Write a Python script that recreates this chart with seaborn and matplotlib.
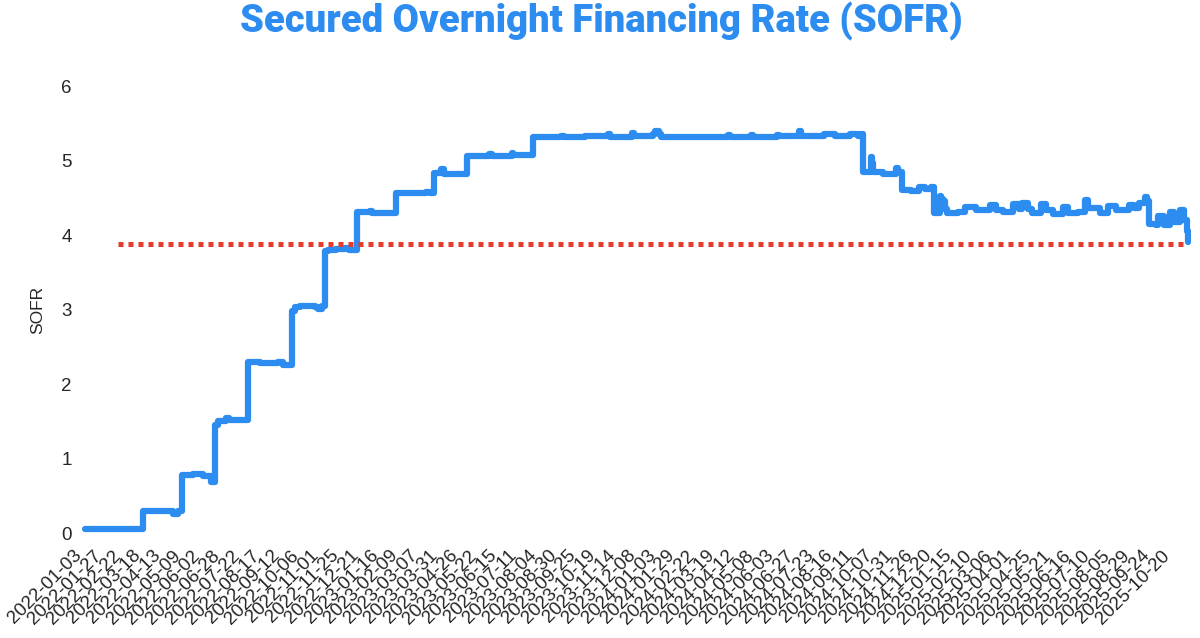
import matplotlib
matplotlib.use("Agg")
import matplotlib.pyplot as plt
import pandas as pd
import seaborn as sns

# SOFR step levels (date the level starts, value in %)
change_dates = [
    "2022-01-03", "2022-03-17", "2022-04-08", "2022-04-25", "2022-05-02",
    "2022-05-05", "2022-05-19", "2022-06-01", "2022-06-13", "2022-06-16",
    "2022-06-21", "2022-06-30", "2022-07-05", "2022-07-28", "2022-08-12",
    "2022-09-06", "2022-09-12", "2022-09-20", "2022-09-22", "2022-09-27",
    "2022-10-04", "2022-10-21", "2022-10-26", "2022-11-01", "2022-11-03",
    "2022-11-08", "2022-11-17", "2022-11-30", "2022-12-05", "2022-12-15",
    "2022-12-30", "2023-01-03", "2023-02-02", "2023-03-13", "2023-03-17",
    "2023-03-23", "2023-03-31", "2023-04-05", "2023-05-04", "2023-06-01",
    "2023-06-05", "2023-06-30", "2023-07-03", "2023-07-27", "2023-08-31",
    "2023-09-05", "2023-10-02", "2023-10-31", "2023-11-02", "2023-11-30",
    "2023-12-04", "2023-12-27", "2023-12-29", "2024-01-03", "2024-01-05",
    "2024-02-01", "2024-03-01", "2024-04-01", "2024-04-03", "2024-04-30",
    "2024-05-02", "2024-06-03", "2024-06-05", "2024-07-01", "2024-07-03",
    "2024-08-01", "2024-08-13", "2024-08-15", "2024-09-03", "2024-09-13",
    "2024-09-17", "2024-09-19", "2024-09-30", "2024-10-01", "2024-10-02",
    "2024-10-15", "2024-10-31", "2024-11-04", "2024-11-08", "2024-11-20",
    "2024-11-29", "2024-12-09", "2024-12-16", "2024-12-19", "2024-12-26",
    "2024-12-27", "2024-12-30", "2024-12-31", "2025-01-02", "2025-01-06",
    "2025-01-20", "2025-01-28", "2025-02-11", "2025-02-28", "2025-03-07",
    "2025-03-18", "2025-03-31", "2025-04-07", "2025-04-10", "2025-04-17",
    "2025-04-23", "2025-05-05", "2025-05-12", "2025-05-20", "2025-06-02",
    "2025-06-09", "2025-06-20", "2025-06-30", "2025-07-03", "2025-07-18",
    "2025-07-29", "2025-08-07", "2025-08-20", "2025-08-25", "2025-09-01",
    "2025-09-05", "2025-09-15", "2025-09-17", "2025-09-18", "2025-09-29",
    "2025-10-01", "2025-10-08", "2025-10-16", "2025-10-21", "2025-10-29",
    "2025-11-03", "2025-11-06", "2025-11-07",
]
sofr_values = [
    0.05, 0.29, 0.30, 0.26, 0.29,
    0.78, 0.79, 0.76, 0.68, 1.45,
    1.50, 1.55, 1.52, 2.30, 2.28,
    2.29, 2.26, 2.25, 2.98, 3.04,
    3.05, 3.03, 3.01, 3.05, 3.78,
    3.80, 3.81, 3.82, 3.80, 4.31,
    4.32, 4.30, 4.56, 4.58, 4.56,
    4.83, 4.88, 4.82, 5.06, 5.09,
    5.06, 5.10, 5.07, 5.31, 5.33,
    5.31, 5.33, 5.35, 5.32, 5.37,
    5.33, 5.36, 5.40, 5.35, 5.31,
    5.32, 5.31, 5.34, 5.32, 5.34,
    5.31, 5.34, 5.33, 5.40, 5.33,
    5.35, 5.36, 5.33, 5.35, 5.33,
    5.36, 4.84, 5.05, 4.96, 4.84,
    4.82, 4.90, 4.85, 4.60, 4.59,
    4.64, 4.62, 4.65, 4.30, 4.52,
    4.38, 4.49, 4.46, 4.35, 4.30,
    4.31, 4.37, 4.34, 4.40, 4.34,
    4.31, 4.41, 4.35, 4.43, 4.35,
    4.30, 4.41, 4.33, 4.28, 4.37,
    4.30, 4.31, 4.47, 4.36, 4.30,
    4.39, 4.33, 4.34, 4.40, 4.36,
    4.43, 4.51, 4.45, 4.15, 4.13,
    4.25, 4.13, 4.31, 4.18, 4.33,
    4.20, 4.05, 3.91,
]

# dotted reference level
ref_level = 3.88
ref_from = "2022-02-14"

# the x axis is one slot per weekday, labelled every 18th slot
first_day = "2022-01-03"
last_day = "2025-11-07"
tick_every = 18

blue = "#2d8cf0"
red = "#e53b2e"

days = pd.bdate_range(first_day, last_day)
df = pd.DataFrame({"date": pd.to_datetime(change_dates), "SOFR": sofr_values})
df["pos"] = days.searchsorted(df["date"])

sns.set_style("white")
plt.rcParams["font.family"] = ["Liberation Sans", "DejaVu Sans"]

fig = plt.figure(figsize=(12, 6.38), dpi=100)
ax = fig.add_axes([0.0681, 0.147, 0.9247, 0.7357])

sns.lineplot(data=df, x="pos", y="SOFR", ax=ax, color=blue, linewidth=4.5,
             drawstyle="steps-post", solid_joinstyle="round",
             solid_capstyle="round")
ax.hlines(ref_level, days.searchsorted(pd.Timestamp(ref_from)), len(days) - 1,
          colors=red, linewidth=3.6, linestyles=(0, (1, 1)))

# tick labels are the weekday dates themselves
tick_pos = list(range(0, len(days), tick_every))
ax.set_xticks(tick_pos)
ax.set_xticklabels(days[::tick_every].strftime("%Y-%m-%d"), rotation=45, ha="right")
ax.set_yticks(range(0, 7))

ax.set_xlim(-3, len(days) + 2)
ax.set_ylim(-0.15, 6.15)
ax.set_xlabel("")
ax.set_ylabel("SOFR", fontsize=12.5, labelpad=12)
ax.tick_params(axis="x", length=0, pad=2, labelsize=13.5)
ax.tick_params(axis="y", length=0, pad=7, labelsize=13.5)
sns.despine(left=True, bottom=True)

fig.text(0.501, 0.9498, "Secured Overnight Financing Rate (SOFR)", ha="center",
         va="baseline", fontsize=27.5, fontweight="heavy", color=blue,
         family=["Roboto", "DejaVu Sans"])

fig.savefig("out.png", dpi=100)
